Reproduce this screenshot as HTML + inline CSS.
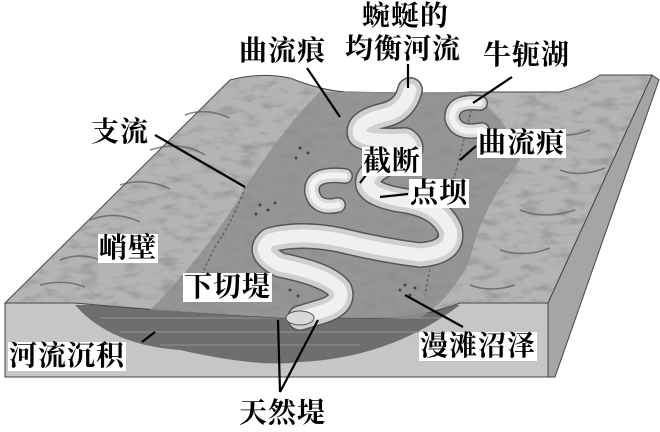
<!DOCTYPE html>
<html><head><meta charset="utf-8"><style>
body{margin:0;background:#fff;width:660px;height:432px;overflow:hidden;position:relative;font-family:"Liberation Serif","Noto Serif CJK SC",serif}
.l{position:absolute;background:#fff;font-size:28px;line-height:29px;height:29px;color:#000;padding:0 1px;white-space:nowrap;font-weight:bold;letter-spacing:1px}
svg{position:absolute;left:0;top:0}
</style></head><body>
<svg width="660" height="432" viewBox="0 0 660 432">
<defs>
<filter id="n"><feTurbulence type="fractalNoise" baseFrequency="0.05 0.12" numOctaves="3" seed="5"/><feColorMatrix values="0 0 0 0 0.25 0 0 0 0 0.25 0 0 0 0 0.25 0 0 0 1.6 -0.75"/><feComposite in2="SourceGraphic" operator="in"/></filter>
<path id="r" d="M410,90 Q405,110 385,115 Q355,122 360,135 Q368,142 405,140 Q420,150 395,160 Q365,172 368,185 Q372,195 400,200 Q440,205 450,230 Q455,252 420,255 Q380,250 340,240 Q300,232 270,240 Q255,252 280,265 Q330,275 340,290 Q345,305 320,312 L300,318"/>
<path id="o1" d="M480,103 Q452,100 452,118 Q456,135 482,130"/>
<path id="o2" d="M345,176 Q310,172 312,192 Q316,210 338,205"/>
</defs>
<!-- right face -->
<polygon points="548,303 652,75 659,80 555,377 548,377" fill="#a5a5a5" stroke="#444"/>
<!-- front face -->
<polygon points="5,303 548,303 548,377 5,377" fill="#c6c6c6" stroke="#444"/>
<!-- deposit lens -->
<path d="M75,305 Q110,345 180,350 Q260,368 300,362 Q390,358 460,305 Z" fill="#6e6e6e"/>
<path d="M100,318 H440 M120,332 H420 M160,345 H360" stroke="#8a8a8a" stroke-width="1.2"/>
<!-- top surface -->
<path d="M5,303 L230,80 Q260,72 290,78 Q320,90 345,92 L405,93 Q430,95 470,92 L560,92 Q585,85 600,75 L652,75 L548,303 L460,303 Q420,318 380,318 L280,318 Q150,310 75,303 Z" fill="#b4b4b4" stroke="#444"/>
<path d="M150,310 Q210,250 250,180 Q290,120 320,92 L470,92 Q510,120 520,160 Q480,210 470,260 Q450,300 420,318 L280,318 Z" fill="#8f8f8f" opacity="0.85"/>
<path d="M5,303 L230,80 Q260,72 290,78 Q320,90 345,92 L405,93 Q430,95 470,92 L560,92 Q585,85 600,75 L652,75 L548,303 L460,303 Q420,318 380,318 L280,318 Q150,310 75,303 Z" fill="#fff" filter="url(#n)"/>
<g stroke="#555" stroke-width="1.5" fill="none" opacity="0.7">
<path d="M60,260 q20,-8 40,0 M90,220 q25,-10 50,2 M120,185 q25,-8 50,4 M150,150 q30,-10 55,5 M185,115 q20,-8 45,3 M40,285 q25,-6 45,2"/>
<path d="M540,130 q25,10 50,0 M560,170 q20,8 45,-2 M520,210 q25,10 55,0 M500,250 q25,8 50,-2 M470,285 q20,8 45,0"/>
<path d="M245,187 q-10,30 -30,60 q-15,30 -25,55" stroke-dasharray="3 2"/>
<path d="M475,95 q-10,40 -20,80 q-20,60 -30,120" stroke-dasharray="3 2"/>
</g>
<!-- river -->
<g fill="none" stroke-linecap="round" stroke-linejoin="round">
<use href="#r" stroke="#555" stroke-width="26"/>
<use href="#r" stroke="#cfcfcf" stroke-width="23"/>
<use href="#r" stroke="#f0f0f0" stroke-width="13"/>
<use href="#o1" stroke="#555" stroke-width="16"/>
<use href="#o1" stroke="#d8d8d8" stroke-width="13"/>
<use href="#o1" stroke="#f2f2f2" stroke-width="6"/>
<use href="#o2" stroke="#555" stroke-width="16"/>
<use href="#o2" stroke="#d8d8d8" stroke-width="13"/>
<use href="#o2" stroke="#f2f2f2" stroke-width="6"/>
</g>
<ellipse cx="300" cy="318" rx="14" ry="7" fill="#d8d8d8" stroke="#555"/>
<g fill="#444">
<circle cx="260" cy="205" r="1.5"/><circle cx="268" cy="210" r="1.5"/><circle cx="256" cy="214" r="1.5"/><circle cx="275" cy="203" r="1.5"/>
<circle cx="300" cy="148" r="1.5"/><circle cx="308" cy="153" r="1.5"/><circle cx="296" cy="158" r="1.5"/>
<circle cx="400" cy="290" r="1.5"/><circle cx="410" cy="295" r="1.5"/><circle cx="405" cy="285" r="1.5"/><circle cx="415" cy="288" r="1.5"/>
<circle cx="290" cy="290" r="1.5"/><circle cx="298" cy="296" r="1.5"/>
</g>
<g stroke="#000" stroke-width="2.2" fill="none">
<line x1="155" y1="135" x2="245" y2="187"/>
<line x1="307" y1="68" x2="340" y2="117"/>
<line x1="408" y1="64" x2="408" y2="88"/>
<line x1="512" y1="77" x2="473" y2="103"/>
<line x1="476" y1="146" x2="460" y2="160"/>
<line x1="366" y1="175" x2="360" y2="183"/>
<line x1="380" y1="197" x2="408" y2="194"/>
<line x1="142" y1="342" x2="155" y2="332"/>
<line x1="463" y1="327" x2="405" y2="295"/>
<line x1="280" y1="392" x2="278" y2="320"/>
<line x1="280" y1="392" x2="318" y2="320"/>
</g>
</svg>
<div class="l" style="left:361px;top:2px">蜿蜒的</div>
<div class="l" style="left:344px;top:35px">均衡河流</div>
<div class="l" style="left:238px;top:37px">曲流痕</div>
<div class="l" style="left:482px;top:41px">牛轭湖</div>
<div class="l" style="left:90px;top:118px">支流</div>
<div class="l" style="left:477px;top:129px">曲流痕</div>
<div class="l" style="left:362px;top:147px">截断</div>
<div class="l" style="left:409px;top:179px">点坝</div>
<div class="l" style="left:98px;top:234px">峭壁</div>
<div class="l" style="left:183px;top:273px">下切堤</div>
<div class="l" style="left:8px;top:342px">河流沉积</div>
<div class="l" style="left:419px;top:332px">漫滩沼泽</div>
<div class="l" style="left:238px;top:399px">天然堤</div>
</body></html>
